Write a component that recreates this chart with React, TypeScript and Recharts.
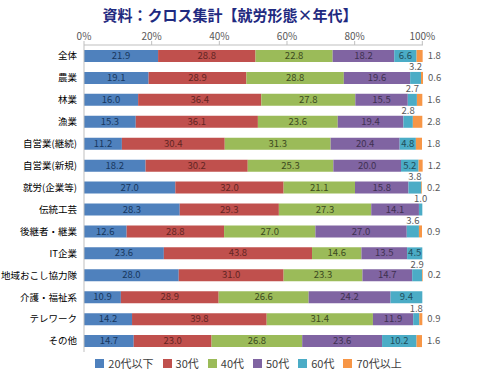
import { BarChart, Bar, XAxis, YAxis, Legend, LabelList } from 'recharts';

// 就労形態 x 年代 (%)
const CATEGORIES = [
  '全体', '農業', '林業', '漁業', '自営業(継続)', '自営業(新規)', '就労(企業等)',
  '伝統工芸', '後継者・継業', 'IT企業', '地域おこし協力隊', '介護・福祉系', 'テレワーク', 'その他',
];
const AGE_20 = [21.9, 19.1, 16.0, 15.3, 11.2, 18.2, 27.0, 28.3, 12.6, 23.6, 28.0, 10.9, 14.2, 14.7];
const AGE_30 = [28.8, 28.9, 36.4, 36.1, 30.4, 30.2, 32.0, 29.3, 28.8, 43.8, 31.0, 28.9, 39.8, 23.0];
const AGE_40 = [22.8, 28.8, 27.8, 23.6, 31.3, 25.3, 21.1, 27.3, 27.0, 14.6, 23.3, 26.6, 31.4, 26.8];
const AGE_50 = [18.2, 19.6, 15.5, 19.4, 20.4, 20.0, 15.8, 14.1, 27.0, 13.5, 14.7, 24.2, 11.9, 23.6];
const AGE_60 = [6.6, 3.2, 2.7, 2.8, 4.8, 5.2, 3.8, 1.0, 3.6, 4.5, 2.9, 9.4, 1.8, 10.2];
const AGE_70 = [1.8, 0.6, 1.6, 2.8, 1.8, 1.2, 0.2, 0, 0.9, 0, 0.2, 0, 0.9, 1.6];
const X_TICKS = [0, 20, 40, 60, 80, 100];

const SERIES = [
  { key: 'a20', name: '20代以下', color: '#4F81BD', text: '#17375E' },
  { key: 'a30', name: '30代', color: '#C0504D', text: '#632523' },
  { key: 'a40', name: '40代', color: '#9BBB59', text: '#3B4A1E' },
  { key: 'a50', name: '50代', color: '#8064A2', text: '#3F3151' },
  { key: 'a60', name: '60代', color: '#4BACC6', text: '#1F4E5C' },
  { key: 'a70', name: '70代以上', color: '#F79646', text: '#595959' },
];

const data = CATEGORIES.map((name, i) => ({
  name,
  a20: AGE_20[i],
  a30: AGE_30[i],
  a40: AGE_40[i],
  a50: AGE_50[i],
  a60: AGE_60[i],
  a70: AGE_70[i],
}));

const FONT = '"Noto Sans CJK JP", "Noto Sans", sans-serif';

// inside-segment label
const insideLabel = (color: string) => (props: any) => {
  const { x, y, width, height, value } = props;
  return (
    <text x={x + width / 2} y={y + height / 2 + 0.5} fill={color} fontSize={9.5}
      textAnchor="middle" dominantBaseline="middle" fontFamily={FONT}>
      {Number(value).toFixed(1)}
    </text>
  );
};

// 60代: small values go above the bar
const label60 = (props: any) => {
  const { x, y, width, value } = props;
  if (value >= 4) return insideLabel('#1F4E5C')(props);
  return (
    <text x={x + width / 2} y={y - 1.5} fill="#595959" fontSize={9.5}
      textAnchor="middle" fontFamily={FONT}>
      {Number(value).toFixed(1)}
    </text>
  );
};

// 70代: to the right of the bar
const label70 = (props: any) => {
  const { x, y, width, height, value } = props;
  if (!value) return null;
  return (
    <text x={x + width + 5} y={y + height / 2 + 0.5} fill="#595959" fontSize={9.5}
      dominantBaseline="middle" fontFamily={FONT}>
      {Number(value).toFixed(1)}
    </text>
  );
};

const renderLegend = (props: any) => (
  <div style={{ display: 'flex', justifyContent: 'center', gap: 9, paddingLeft: 10, fontSize: 11, color: '#404040', fontFamily: FONT }}>
    {(props.payload || []).map((p: any) => (
      <span key={p.value} style={{ display: 'inline-flex', alignItems: 'center' }}>
        <span style={{ width: 9, height: 9, background: p.color, marginRight: 4, display: 'inline-block' }} />
        {p.value}
      </span>
    ))}
  </div>
);

export default function App() {
  return (
    <div style={{ position: 'absolute', left: 0, top: 0, width: 487, height: 374, background: '#fff', fontFamily: FONT }}>
      <div style={{ position: 'absolute', top: 4, left: 0, width: 460, textAlign: 'center', fontSize: 15, fontWeight: 'bold', color: '#1F2A80' }}>
        資料：クロス集計【就労形態×年代】
      </div>
      <BarChart
        width={487}
        height={374}
        data={data}
        layout="vertical"
        barSize={12}
        margin={{ top: 25, right: 64, bottom: 0, left: 0 }}
      >
        <XAxis
          type="number"
          orientation="top"
          domain={[0, 100]}
          ticks={X_TICKS}
          tickFormatter={(v) => `${v}%`}
          height={20}
          tickSize={4}
          tickMargin={1}
          stroke="#BFBFBF"
          tick={{ fill: '#595959', fontSize: 10, fontFamily: FONT }}
        />
        <YAxis
          type="category"
          dataKey="name"
          width={84}
          tickSize={0}
          tickMargin={7}
          stroke="#BFBFBF"
          tick={{ fill: '#000', fontSize: 9.5, fontFamily: FONT }}
          interval={0}
        />
        <Legend
          verticalAlign="bottom"
          height={22}
          content={renderLegend}
          wrapperStyle={{ left: 0, width: 487, bottom: -3 }}
        />
        {SERIES.map((s) => (
          <Bar key={s.key} dataKey={s.key} name={s.name} stackId="age" fill={s.color} isAnimationActive={false}>
            <LabelList
              dataKey={s.key}
              content={s.key === 'a60' ? label60 : s.key === 'a70' ? label70 : insideLabel(s.text)}
            />
          </Bar>
        ))}
      </BarChart>
    </div>
  );
}
